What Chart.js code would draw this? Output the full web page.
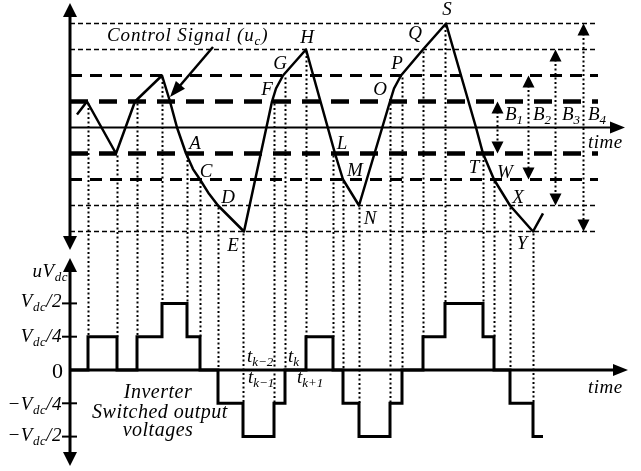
<!DOCTYPE html>
<html>
<head>
<meta charset="utf-8">
<script src="https://cdn.jsdelivr.net/npm/chart.js@4/dist/chart.umd.min.js"></script>
<style>
  html, body { margin: 0; padding: 0; background: #fff; }
  #wrap { width: 641px; height: 471px; }
</style>
</head>
<body>
<div id="wrap"><canvas id="c" width="641" height="471"></canvas></div>
<script>
// Control signal u_c: vertices (time, level in band units)
const ucTime  = [7, 17, 46, 65, 92, 100, 107, 116, 123, 130, 139, 148, 174, 202, 206, 213, 236, 265, 273, 289, 320, 324, 331, 353, 376, 406, 413, 424, 440, 463, 473];
const ucLevel = [0.5, 1, -1, 1, 2, 1, 0, -1, -1.6, -2, -2.55, -3, -4, 1, 1.5, 2, 3, -1, -2, -3, 1, 1.5, 2, 3, 4, 0, -1, -2, -3, -4, -3.3];

// Hysteresis band boundaries (±1 .. ±4) and their end time
const bandLevels = [1, 2, 3, 4];
const bandEnd = 528;

// Inverter output: switching instants and level (multiples of V_dc/4) held from each instant
const swTime  = [0, 18, 47, 67, 92, 117, 130, 148, 173, 204, 215, 236, 263, 273, 289, 320, 332, 353, 375, 413, 424, 440, 463, 473];
const swLevel = [0, 1, 0, 1, 2, 1, 0, -1, -2, -1, 0, 1, 0, -1, -2, -1, 0, 1, 2, 1, 0, -1, -2, -2];
// Band boundary crossed by u_c at each inner switching instant
const crossLevel = [1, -1, 1, 2, -1, -2, -3, -4, 1, 2, 3, -1, -2, -3, 1, 2, 3, 4, -1, -2, -3, -4];

// Band width markers B1..B4
const bandMarkTime = [427, 458, 485, 513];
const bandMarkNames = ['1', '2', '3', '4'];

// Output-voltage axis tick levels
const outTicks = [2, 1, -1, -2];

const SERIF = '"Liberation Serif", "Times New Roman", serif';

function rich(ctx, parts, x, y, align, size, spacing) {
  const main = 'italic ' + size + 'px ' + SERIF;
  const sub = 'italic ' + Math.round(size * 0.68) + 'px ' + SERIF;
  ctx.letterSpacing = (spacing || 0) + 'px';
  let w = 0;
  parts.forEach(([s, isSub]) => { ctx.font = isSub ? sub : main; w += ctx.measureText(s).width; });
  let cx = align === 'right' ? x - w : align === 'center' ? x - w / 2 : x;
  ctx.textAlign = 'left';
  ctx.textBaseline = 'alphabetic';
  parts.forEach(([s, isSub]) => {
    ctx.font = isSub ? sub : main;
    ctx.fillText(s, cx, isSub ? y + size * 0.22 : y);
    cx += ctx.measureText(s).width;
  });
  ctx.letterSpacing = '0px';
}

function arrowHead(ctx, tx, ty, dx, dy, len, half) {
  const bx = tx - dx * len, by = ty - dy * len;
  const nx = -dy, ny = dx;
  ctx.beginPath();
  ctx.moveTo(tx, ty);
  ctx.lineTo(bx + nx * half, by + ny * half);
  ctx.lineTo(bx - nx * half, by - ny * half);
  ctx.closePath();
  ctx.fill();
}

const bandStyle = {
  1: { w: 4.5, dash: [18, 11] },
  2: { w: 3, dash: [12, 8] },
  3: { w: 1.5, dash: [5, 3] },
  4: { w: 1.5, dash: [5, 3] }
};

const datasets = [];
datasets.push({
  label: 'u_c',
  yAxisID: 'yu',
  data: ucTime.map((t, i) => ({ x: t, y: ucLevel[i] })),
  borderColor: '#000',
  borderWidth: 2.5,
  pointRadius: 0,
  tension: 0,
  borderJoinStyle: 'round'
});
datasets.push({
  label: 'output',
  yAxisID: 'yv',
  data: swTime.map((t, i) => ({ x: t, y: swLevel[i] })),
  borderColor: '#000',
  borderWidth: 3,
  pointRadius: 0,
  stepped: 'before',
  borderJoinStyle: 'miter'
});
bandLevels.forEach(k => {
  [1, -1].forEach(s => {
    datasets.push({
      label: 'band' + s * k,
      yAxisID: 'yu',
      data: [{ x: 0, y: s * k }, { x: bandEnd, y: s * k }],
      borderColor: '#000',
      borderWidth: bandStyle[k].w,
      borderDash: bandStyle[k].dash,
      borderCapStyle: 'butt',
      pointRadius: 0
    });
  });
});

const diagram = {
  id: 'diagram',
  beforeDraw(chart) {
    const c = chart.ctx;
    c.save();
    c.fillStyle = '#fff';
    c.fillRect(0, 0, chart.width, chart.height);
    c.restore();
  },
  beforeDatasetsDraw(chart) {
    const c = chart.ctx, X = chart.scales.x, U = chart.scales.yu, V = chart.scales.yv;
    c.save();
    c.strokeStyle = '#000';
    c.fillStyle = '#000';
    // dotted projections from the band crossings down to the output levels
    c.lineWidth = 2;
    c.setLineDash([2, 2.5]);
    for (let i = 1; i < swTime.length - 1; i++) {
      const x = Math.round(X.getPixelForValue(swTime[i])) + 0.5;
      c.beginPath();
      c.moveTo(x, U.getPixelForValue(crossLevel[i - 1]) + 2);
      c.lineTo(x, V.getPixelForValue(Math.max(swLevel[i - 1], swLevel[i])));
      c.stroke();
    }
    // band width markers
    bandMarkTime.forEach((t, i) => {
      const k = bandLevels[i];
      const x = Math.round(X.getPixelForValue(t)) + 0.5;
      const yT = U.getPixelForValue(k), yB = U.getPixelForValue(-k);
      c.setLineDash([2, 2.5]);
      c.lineWidth = 2;
      c.beginPath();
      c.moveTo(x, yT + 10);
      c.lineTo(x, yB - 10);
      c.stroke();
      c.setLineDash([]);
      arrowHead(c, x, yT, 0, -1, 12, 6);
      arrowHead(c, x, yB, 0, 1, 12, 6);
    });
    c.setLineDash([]);
    // time axis of the control panel
    const x0 = X.getPixelForValue(0);
    const yu0 = U.getPixelForValue(0);
    c.lineWidth = 2;
    c.beginPath();
    c.moveTo(x0, yu0);
    c.lineTo(X.getPixelForValue(545), yu0);
    c.stroke();
    arrowHead(c, X.getPixelForValue(555), yu0, 1, 0, 15, 6);
    // time axis of the output panel
    const yv0 = V.getPixelForValue(0);
    c.lineWidth = 3;
    c.beginPath();
    c.moveTo(x0, yv0);
    c.lineTo(X.getPixelForValue(548), yv0);
    c.stroke();
    arrowHead(c, X.getPixelForValue(558), yv0, 1, 0, 15, 6);
    c.restore();
  },
  afterDatasetsDraw(chart) {
    const c = chart.ctx, X = chart.scales.x, U = chart.scales.yu, V = chart.scales.yv;
    c.save();
    c.strokeStyle = '#000';
    c.fillStyle = '#000';
    const x0 = X.getPixelForValue(0);
    // vertical axes with arrows at both ends
    c.lineWidth = 3;
    const uTop = U.getPixelForValue(4.79), uBot = U.getPixelForValue(-4.71);
    c.beginPath(); c.moveTo(x0, uTop + 8); c.lineTo(x0, uBot - 8); c.stroke();
    arrowHead(c, x0, uTop, 0, -1, 14, 7);
    arrowHead(c, x0, uBot, 0, 1, 14, 7);
    const vTop = V.getPixelForValue(3.36), vBot = V.getPixelForValue(-2.88);
    c.beginPath(); c.moveTo(x0, vTop + 8); c.lineTo(x0, vBot - 8); c.stroke();
    arrowHead(c, x0, vTop, 0, -1, 14, 7);
    arrowHead(c, x0, vBot, 0, 1, 14, 7);
    // tick marks of the output axis
    c.lineWidth = 2;
    outTicks.forEach(v => {
      const y = V.getPixelForValue(v);
      c.beginPath(); c.moveTo(x0 - 8, y); c.lineTo(x0 + 7, y); c.stroke();
    });
    // output axis labels
    const S = 19;
    rich(c, [['uV', false], ['dc', true]], 68, 277, 'right', S, 0.5);
    rich(c, [['V', false], ['dc', true], ['/2', false]], 62, 307, 'right', S, 0.5);
    rich(c, [['V', false], ['dc', true], ['/4', false]], 62, 342, 'right', S, 0.5);
    rich(c, [['\u2212V', false], ['dc', true], ['/4', false]], 62, 410, 'right', S, 0.5);
    rich(c, [['\u2212V', false], ['dc', true], ['/2', false]], 62, 441, 'right', S, 0.5);
    c.font = '22px ' + SERIF;
    c.textAlign = 'right';
    c.textBaseline = 'alphabetic';
    c.fillText('0', 63, 378);

    // control signal caption and its pointer
    rich(c, [['Control Signal (u', false], ['c', true], [')', false]], 107, 41, 'left', S, 0.9);
    c.lineWidth = 2.5;
    c.beginPath(); c.moveTo(213, 47); c.lineTo(178, 88); c.stroke();
    const dx = 170 - 213, dy = 97 - 47, dl = Math.hypot(dx, dy);
    arrowHead(c, 170, 97, dx / dl, dy / dl, 16, 6);

    // crossing point names
    const pts = [['A', 195, 149], ['C', 206, 177], ['D', 228, 203], ['E', 233, 251],
      ['F', 267, 95], ['G', 280, 69], ['H', 307, 43], ['L', 342, 149], ['M', 355, 176],
      ['N', 370, 224], ['O', 380, 95], ['P', 397, 69], ['Q', 415, 39], ['S', 447, 15],
      ['T', 474, 173], ['W', 505, 178], ['X', 518, 203], ['Y', 522, 249]];
    pts.forEach(([t, x, y]) => rich(c, [[t, false]], x, y, 'center', S));

    // band width names
    bandMarkNames.forEach((n, i) => {
      const x = [505, 533, 562, 588][i];
      rich(c, [['B', false], [n, true]], x, 120, 'left', S);
    });

    rich(c, [['time', false]], 588, 148, 'left', S, 0.5);
    rich(c, [['time', false]], 588, 393, 'left', S, 0.5);

    rich(c, [['Inverter', false]], 158, 398, 'center', S + 1, 0.5);
    rich(c, [['Switched output', false]], 160, 418, 'center', S + 1, 0.5);
    rich(c, [['voltages', false]], 158, 436, 'center', S + 1, 0.5);

    rich(c, [['t', false], ['k\u22122', true]], 247, 362, 'left', S);
    rich(c, [['t', false], ['k', true]], 288, 362, 'left', S);
    rich(c, [['t', false], ['k\u22121', true]], 248, 383, 'left', S);
    rich(c, [['t', false], ['k+1', true]], 297, 383, 'left', S);
    c.restore();
  }
};

// control panel: level 0 at y=127.5, 26 px per band; output panel: 0 at y=370, 33.3 px per V_dc/4
new Chart(document.getElementById('c'), {
  type: 'line',
  data: { datasets },
  options: {
    responsive: false,
    animation: false,
    devicePixelRatio: 1,
    layout: { padding: 0 },
    plugins: { legend: { display: false }, tooltip: { enabled: false } },
    scales: {
      x: { type: 'linear', display: false, min: -70, max: 571 },
      yu: { type: 'linear', display: false, min: -(471 - 127.5) / 26, max: 127.5 / 26 },
      yv: { type: 'linear', display: false, min: -(471 - 370) / 33.3, max: 370 / 33.3 }
    }
  },
  plugins: [diagram]
});
</script>
</body>
</html>
